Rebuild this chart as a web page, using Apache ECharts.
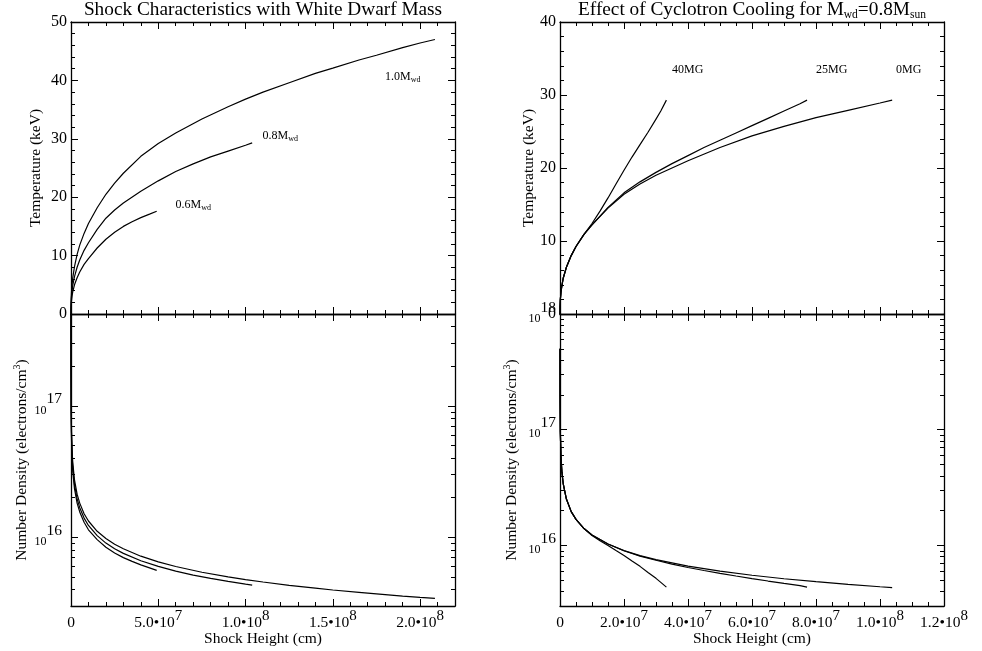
<!DOCTYPE html>
<html>
<head>
<meta charset="utf-8">
<script src="https://cdn.jsdelivr.net/npm/echarts@6/dist/echarts.min.js"></script>
<style>
html, body { margin: 0; padding: 0; background: #fff; }
#chart { width: 982px; height: 651px; }
</style>
</head>
<body>
<div id="chart"></div>
<script>
// shock height is listed in units of 1e7 cm
const H = 1e7;

// left panels: white dwarf mass
const x06 = [0, 0.002, 0.01, 0.03, 0.06, 0.1, 0.2, 0.35, 0.5, 0.75, 1, 1.5, 2, 2.5, 3, 3.5, 4, 4.5, 4.91];
const t06 = [0, 0.8, 1.5, 2.3, 3.1, 3.8, 5.0, 6.2, 7.2, 8.5, 9.5, 11.3, 12.8, 14.0, 15.0, 15.8, 16.5, 17.1, 17.6];
const n06 = [5e17, 1.83e17, 8.9e16, 5.5e16, 4.0e16, 3.19e16, 2.34e16, 1.82e16, 1.56e16, 1.30e16, 1.14e16,
    9.6e15, 8.4e15, 7.6e15, 7.0e15, 6.56e15, 6.17e15, 5.85e15, 5.6e15];

const x08 = [0, 0.002, 0.01, 0.03, 0.06, 0.1, 0.2, 0.35, 0.5, 0.75, 1, 1.5, 2, 2.5, 3, 4, 5, 6, 7, 8, 9, 10, 10.38];
const t08 = [0, 1.0, 1.95, 3.0, 3.9, 4.9, 6.4, 8.0, 9.25, 10.9, 12.2, 14.5, 16.4, 17.8, 19.0, 21.0, 22.8, 24.4,
    25.7, 26.9, 27.9, 28.9, 29.3];
const n08 = [5e17, 1.97e17, 9.6e16, 5.9e16, 4.3e16, 3.43e16, 2.52e16, 1.96e16, 1.68e16, 1.40e16, 1.23e16,
    1.03e16, 9.03e15, 8.17e15, 7.54e15, 6.63e15, 6.0e15, 5.53e15, 5.16e15, 4.87e15, 4.62e15, 4.40e15, 4.33e15];

const x10 = [0, 0.002, 0.01, 0.03, 0.06, 0.1, 0.2, 0.35, 0.5, 0.75, 1, 1.5, 2, 2.5, 3, 4, 5, 6, 7.5, 9, 10, 11,
    12.5, 14, 15, 16.5, 17.5, 19, 20, 20.85];
const t10 = [0, 1.3, 2.5, 3.8, 5.0, 6.2, 8.1, 10.2, 11.8, 13.8, 15.5, 18.2, 20.5, 22.4, 24.1, 27.0, 29.2, 31.0,
    33.4, 35.5, 36.8, 38.0, 39.6, 41.2, 42.1, 43.5, 44.3, 45.6, 46.4, 47.0];
const n10 = [5e17, 2.13e17, 1.04e17, 6.4e16, 4.67e16, 3.72e16, 2.73e16, 2.13e16, 1.82e16, 1.51e16, 1.33e16,
    1.11e16, 9.8e15, 8.85e15, 8.17e15, 7.18e15, 6.5e15, 5.99e15, 5.42e15, 5.0e15, 4.76e15, 4.57e15, 4.31e15,
    4.10e15, 3.97e15, 3.81e15, 3.71e15, 3.57e15, 3.49e15, 3.43e15];

// right panels: magnetic field, 0MG is the 0.8 Mwd curve
const x25 = [0, 0.002, 0.01, 0.03, 0.06, 0.1, 0.2, 0.35, 0.5, 0.75, 1, 1.5, 2, 2.5, 3, 3.5, 4, 4.5, 5, 5.5, 6,
    6.5, 7, 7.5, 7.72];
const t25 = [0, 1.0, 1.95, 3.0, 3.9, 4.9, 6.4, 8.0, 9.25, 10.9, 12.2, 14.6, 16.6, 18.1, 19.4, 20.6, 21.7, 22.8,
    23.8, 24.8, 25.8, 26.8, 27.8, 28.8, 29.3];
const n25 = [5e17, 1.97e17, 9.6e16, 5.9e16, 4.3e16, 3.43e16, 2.52e16, 1.96e16, 1.68e16, 1.40e16, 1.23e16,
    1.03e16, 9.0e15, 8.1e15, 7.45e15, 6.9e15, 6.45e15, 6.08e15, 5.75e15, 5.45e15, 5.18e15, 4.93e15, 4.7e15,
    4.5e15, 4.37e15];

const x40 = [0, 0.002, 0.01, 0.03, 0.06, 0.1, 0.2, 0.35, 0.5, 0.75, 1, 1.25, 1.5, 1.75, 2, 2.25, 2.5, 2.75, 3,
    3.15, 3.325];
const t40 = [0, 1.0, 1.95, 3.0, 3.9, 4.9, 6.4, 8.0, 9.25, 10.9, 12.4, 14.1, 15.9, 17.8, 19.7, 21.5, 23.2, 24.9,
    26.7, 27.8, 29.3];
const n40 = [5e17, 1.97e17, 9.6e16, 5.9e16, 4.3e16, 3.43e16, 2.52e16, 1.96e16, 1.68e16, 1.40e16, 1.22e16,
    1.1e16, 1.0e16, 9.05e15, 8.2e15, 7.35e15, 6.6e15, 5.85e15, 5.2e15, 4.8e15, 4.37e15];

// log minor tick values
const minorLogLeft = [4e15, 5e15, 6e15, 7e15, 8e15, 9e15, 2e16, 3e16, 4e16, 5e16, 6e16, 7e16, 8e16, 9e16,
    2e17, 3e17, 4e17];
const minorLogRight = minorLogLeft.concat([5e17, 6e17, 7e17, 8e17, 9e17]);

const FONT = 'Liberation Serif';
const BLACK = '#000';

const chart = echarts.init(document.getElementById('chart'));

function pairs(xs, ys) {
    return xs.map((x, i) => [x * H, ys[i]]);
}

function sciLabel(step) {
    return function (v) {
        if (v === 0) return '{b|0}';
        if (Math.abs(v / step - Math.round(v / step)) > 1e-6) return '';
        const e = Math.floor(Math.log10(v) + 1e-9);
        const m = v / Math.pow(10, e);
        return '{b|' + m.toFixed(1) + '•10}{sup|' + e + '}';
    };
}

function powLabel(v) {
    const l = Math.log10(v);
    const e = Math.round(l);
    if (Math.abs(l - e) > 1e-6) return '';
    return '{b|10}{sup|' + e + '}';
}

const xAxes = [];
const yAxes = [];

function baseAxis(grid, pos, type, min, max) {
    return {
        type: type, gridIndex: grid, position: pos, min: min, max: max,
        nameMoveOverlap: false,
        axisLine: {show: true, onZero: false, lineStyle: {color: BLACK, width: 1.3}},
        axisTick: {show: true, inside: true, length: 7, lineStyle: {color: BLACK, width: 1}},
        splitLine: {show: false},
        axisLabel: {show: false}
    };
}

function minorAxis(grid, pos, min, max, step) {
    const a = baseAxis(grid, pos, 'value', min, max);
    a.interval = step;
    a.axisLine = {show: false, onZero: false};
    a.axisTick = {show: true, inside: true, length: 4, lineStyle: {color: BLACK, width: 1}};
    return a;
}

const nameStyle = {fontFamily: FONT, fontSize: 15.5, color: BLACK};

// x axes: returns index of the main bottom axis
function addX(grid, max, step, minorStep, labels) {
    const main = baseAxis(grid, 'bottom', 'value', 0, max);
    main.interval = step;
    if (labels) {
        main.axisLabel = {
            show: true, margin: 9, formatter: sciLabel(step),
            rich: {
                b: {fontFamily: FONT, fontSize: 15.5, color: BLACK, lineHeight: 16},
                sup: {fontFamily: FONT, fontSize: 15, color: BLACK, lineHeight: 16, padding: [0, 0, 14, 0]}
            }
        };
        main.name = 'Shock Height (cm)';
        main.nameLocation = 'middle';
        main.nameGap = 25;
        main.nameTextStyle = nameStyle;
    }
    xAxes.push(main);
    const idx = xAxes.length - 1;
    xAxes.push(minorAxis(grid, 'bottom', 0, max, minorStep));
    const top = baseAxis(grid, 'top', 'value', 0, max);
    top.interval = step;
    xAxes.push(top);
    xAxes.push(minorAxis(grid, 'top', 0, max, minorStep));
    return idx;
}

function addYLin(grid, max, margin, gap) {
    const main = baseAxis(grid, 'left', 'value', 0, max);
    main.interval = 10;
    main.axisLabel = {show: true, margin: margin, fontFamily: FONT, fontSize: 16, color: BLACK};
    main.name = 'Temperature (keV)';
    main.nameLocation = 'middle';
    main.nameGap = gap;
    main.nameTextStyle = nameStyle;
    yAxes.push(main);
    const idx = yAxes.length - 1;
    yAxes.push(minorAxis(grid, 'left', 0, max, 2));
    const right = baseAxis(grid, 'right', 'value', 0, max);
    right.interval = 10;
    yAxes.push(right);
    yAxes.push(minorAxis(grid, 'right', 0, max, 2));
    return idx;
}

function addYLog(grid, min, max, minorVals, margin, gap) {
    const main = baseAxis(grid, 'left', 'log', min, max);
    main.logBase = 10;
    main.axisLabel = {
        show: true, margin: margin, formatter: powLabel,
        rich: {
            b: {fontFamily: FONT, fontSize: 12, color: BLACK, lineHeight: 13, padding: [9, 0, 0, 0]},
            sup: {fontFamily: FONT, fontSize: 15.5, color: BLACK, lineHeight: 16, padding: [0, 0, 13, 0]}
        }
    };
    main.name = 'Number Density (electrons/cm{s|3})';
    main.nameLocation = 'middle';
    main.nameGap = gap;
    main.nameTextStyle = Object.assign({}, nameStyle, {
        rich: {s: {fontFamily: FONT, fontSize: 10, color: BLACK, padding: [0, 0, 9, 0]}}
    });
    yAxes.push(main);
    const idx = yAxes.length - 1;
    ['left', 'right'].forEach(function (pos) {
        if (pos === 'right') {
            const r = baseAxis(grid, 'right', 'log', min, max);
            r.logBase = 10;
            yAxes.push(r);
        }
        const m = baseAxis(grid, pos, 'log', min, max);
        m.logBase = 10;
        m.axisLine = {show: false, onZero: false};
        m.axisTick = {show: true, inside: true, length: 4, customValues: minorVals, lineStyle: {color: BLACK, width: 1}};
        yAxes.push(m);
    });
    return idx;
}

const grids = [
    {left: 71, top: 22, width: 384, height: 292, containLabel: false, outerBoundsMode: 'none'},
    {left: 71, top: 314, width: 384, height: 292, containLabel: false, outerBoundsMode: 'none'},
    {left: 560, top: 22, width: 384, height: 292, containLabel: false, outerBoundsMode: 'none'},
    {left: 560, top: 314, width: 384, height: 292, containLabel: false, outerBoundsMode: 'none'}
];

const gx0 = addX(0, 2.2e8, 5e7, 1e7, false);
const gx1 = addX(1, 2.2e8, 5e7, 1e7, true);
const gx2 = addX(2, 1.2e8, 2e7, 5e6, false);
const gx3 = addX(3, 1.2e8, 2e7, 5e6, true);

const gy0 = addYLin(0, 50, 4, 27);
const gy1 = addYLog(1, 3e15, 5e17, minorLogLeft, 9, 40);
const gy2 = addYLin(2, 40, 4, 23);
const gy3 = addYLog(3, 3e15, 1e18, minorLogRight, 4, 39);

function line(name, xi, yi, data) {
    return {
        name: name, type: 'line', xAxisIndex: xi, yAxisIndex: yi, data: data,
        showSymbol: false, symbol: 'none', smooth: false,
        lineStyle: {color: BLACK, width: 1.2}, silent: true, animation: false
    };
}

const series = [
    line('0.6 T', gx0, gy0, pairs(x06, t06)),
    line('0.8 T', gx0, gy0, pairs(x08, t08)),
    line('1.0 T', gx0, gy0, pairs(x10, t10)),
    line('0.6 n', gx1, gy1, pairs(x06, n06)),
    line('0.8 n', gx1, gy1, pairs(x08, n08)),
    line('1.0 n', gx1, gy1, pairs(x10, n10)),
    line('0MG T', gx2, gy2, pairs(x08, t08)),
    line('25MG T', gx2, gy2, pairs(x25, t25)),
    line('40MG T', gx2, gy2, pairs(x40, t40)),
    line('0MG n', gx3, gy3, pairs(x08, n08)),
    line('25MG n', gx3, gy3, pairs(x25, n25)),
    line('40MG n', gx3, gy3, pairs(x40, n40))
];

const subRich = {
    sub: {fontFamily: FONT, fontSize: 8, fill: BLACK, padding: [6, 0, 0, 0]}
};

function note(x, y, text, size) {
    return {
        type: 'text', x: x, y: y, silent: true,
        style: {
            text: text, fontFamily: FONT, fontSize: size, fill: BLACK,
            align: 'left', verticalAlign: 'middle', rich: subRich
        }
    };
}

const graphic = [
    {
        type: 'text', x: 263, y: 10, silent: true,
        style: {text: 'Shock Characteristics with White Dwarf Mass', fontFamily: FONT, fontSize: 19.3,
            fill: BLACK, align: 'center', verticalAlign: 'middle'}
    },
    {
        type: 'text', x: 752, y: 10, silent: true,
        style: {text: 'Effect of Cyclotron Cooling for M{s|wd}=0.8M{s|sun}', fontFamily: FONT, fontSize: 19.3,
            fill: BLACK, align: 'center', verticalAlign: 'middle',
            rich: {s: {fontFamily: FONT, fontSize: 11.5, fill: BLACK, padding: [10, 0, 0, 0]}}}
    },
    note(385, 77, '1.0M{sub|wd}', 12),
    note(262.5, 135.5, '0.8M{sub|wd}', 12),
    note(175.5, 204.5, '0.6M{sub|wd}', 12),
    note(672, 70, '40MG', 12),
    note(816, 70, '25MG', 12),
    note(896, 70, '0MG', 12)
];

chart.setOption({
    animation: false,
    backgroundColor: '#fff',
    grid: grids,
    xAxis: xAxes,
    yAxis: yAxes,
    series: series,
    graphic: graphic
});
</script>
</body>
</html>
